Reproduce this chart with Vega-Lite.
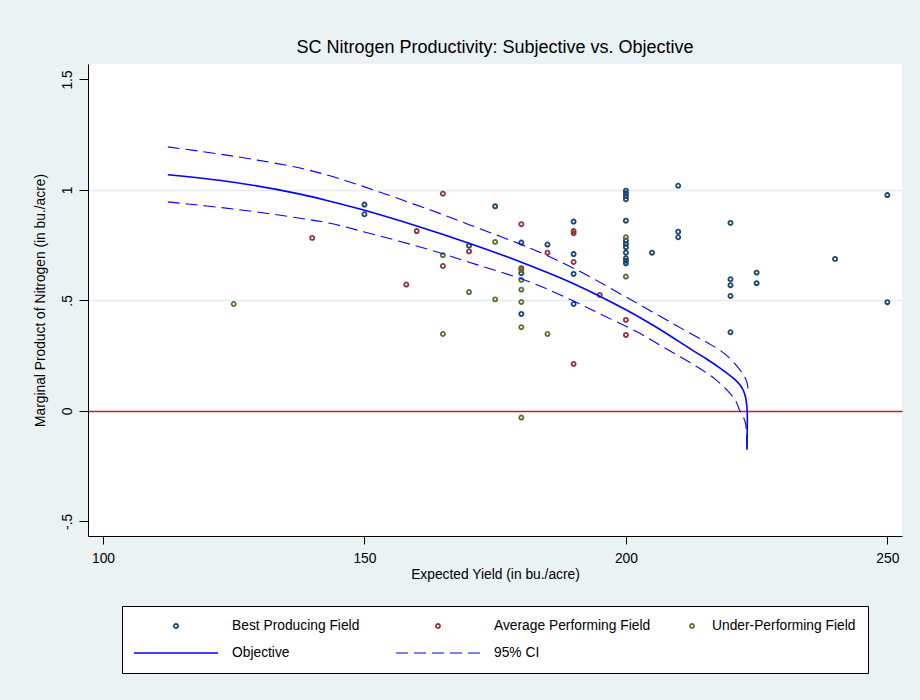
{
  "$schema": "https://vega.github.io/schema/vega-lite/v6.json",
  "width": 814,
  "height": 472,
  "autosize": "none",
  "padding": {"left": 88, "top": 64, "right": 18, "bottom": 164},
  "background": "#eaf2f3",
  "title": {"text": "SC Nitrogen Productivity: Subjective vs. Objective", "anchor": "middle", "frame": "group", "fontSize": 18, "font": "Liberation Sans", "fontWeight": "normal", "color": "#000000", "offset": 7},
  "config": {
    "view": {"fill": "#ffffff", "stroke": null},
    "font": "Liberation Sans",
    "axis": {"domainColor": "#000000", "tickColor": "#000000", "labelColor": "#000000", "titleColor": "#000000", "labelFont": "Liberation Sans", "titleFont": "Liberation Sans", "labelFontSize": 13.8, "titleFontSize": 13.8, "titleFontWeight": "normal", "domainWidth": 1, "tickWidth": 1, "labelFlush": false}
  },
  "datasets": {
    "points": [
      {"x": 150, "y": 0.934, "series": "Best Producing Field"},
      {"x": 150, "y": 0.890, "series": "Best Producing Field"},
      {"x": 175, "y": 0.926, "series": "Best Producing Field"},
      {"x": 170, "y": 0.748, "series": "Best Producing Field"},
      {"x": 180, "y": 0.762, "series": "Best Producing Field"},
      {"x": 180, "y": 0.623, "series": "Best Producing Field"},
      {"x": 180, "y": 0.439, "series": "Best Producing Field"},
      {"x": 185, "y": 0.753, "series": "Best Producing Field"},
      {"x": 190, "y": 0.857, "series": "Best Producing Field"},
      {"x": 190, "y": 0.710, "series": "Best Producing Field"},
      {"x": 190, "y": 0.620, "series": "Best Producing Field"},
      {"x": 190, "y": 0.484, "series": "Best Producing Field"},
      {"x": 200, "y": 0.997, "series": "Best Producing Field"},
      {"x": 200, "y": 0.985, "series": "Best Producing Field"},
      {"x": 200, "y": 0.972, "series": "Best Producing Field"},
      {"x": 200, "y": 0.958, "series": "Best Producing Field"},
      {"x": 200, "y": 0.861, "series": "Best Producing Field"},
      {"x": 200, "y": 0.771, "series": "Best Producing Field"},
      {"x": 200, "y": 0.756, "series": "Best Producing Field"},
      {"x": 200, "y": 0.741, "series": "Best Producing Field"},
      {"x": 200, "y": 0.716, "series": "Best Producing Field"},
      {"x": 200, "y": 0.691, "series": "Best Producing Field"},
      {"x": 200, "y": 0.680, "series": "Best Producing Field"},
      {"x": 200, "y": 0.668, "series": "Best Producing Field"},
      {"x": 205, "y": 0.716, "series": "Best Producing Field"},
      {"x": 210, "y": 1.019, "series": "Best Producing Field"},
      {"x": 210, "y": 0.811, "series": "Best Producing Field"},
      {"x": 210, "y": 0.786, "series": "Best Producing Field"},
      {"x": 220, "y": 0.851, "series": "Best Producing Field"},
      {"x": 220, "y": 0.596, "series": "Best Producing Field"},
      {"x": 220, "y": 0.569, "series": "Best Producing Field"},
      {"x": 220, "y": 0.520, "series": "Best Producing Field"},
      {"x": 220, "y": 0.356, "series": "Best Producing Field"},
      {"x": 225, "y": 0.626, "series": "Best Producing Field"},
      {"x": 225, "y": 0.578, "series": "Best Producing Field"},
      {"x": 240, "y": 0.688, "series": "Best Producing Field"},
      {"x": 250, "y": 0.977, "series": "Best Producing Field"},
      {"x": 250, "y": 0.492, "series": "Best Producing Field"},
      {"x": 140, "y": 0.783, "series": "Average Performing Field"},
      {"x": 158, "y": 0.572, "series": "Average Performing Field"},
      {"x": 160, "y": 0.814, "series": "Average Performing Field"},
      {"x": 165, "y": 0.983, "series": "Average Performing Field"},
      {"x": 165, "y": 0.656, "series": "Average Performing Field"},
      {"x": 170, "y": 0.722, "series": "Average Performing Field"},
      {"x": 180, "y": 0.845, "series": "Average Performing Field"},
      {"x": 180, "y": 0.646, "series": "Average Performing Field"},
      {"x": 185, "y": 0.716, "series": "Average Performing Field"},
      {"x": 190, "y": 0.814, "series": "Average Performing Field"},
      {"x": 190, "y": 0.804, "series": "Average Performing Field"},
      {"x": 190, "y": 0.674, "series": "Average Performing Field"},
      {"x": 190, "y": 0.213, "series": "Average Performing Field"},
      {"x": 195, "y": 0.525, "series": "Average Performing Field"},
      {"x": 200, "y": 0.412, "series": "Average Performing Field"},
      {"x": 200, "y": 0.344, "series": "Average Performing Field"},
      {"x": 125, "y": 0.484, "series": "Under-Performing Field"},
      {"x": 165, "y": 0.705, "series": "Under-Performing Field"},
      {"x": 165, "y": 0.348, "series": "Under-Performing Field"},
      {"x": 170, "y": 0.538, "series": "Under-Performing Field"},
      {"x": 175, "y": 0.765, "series": "Under-Performing Field"},
      {"x": 175, "y": 0.505, "series": "Under-Performing Field"},
      {"x": 180, "y": 0.638, "series": "Under-Performing Field"},
      {"x": 180, "y": 0.593, "series": "Under-Performing Field"},
      {"x": 180, "y": 0.549, "series": "Under-Performing Field"},
      {"x": 180, "y": 0.493, "series": "Under-Performing Field"},
      {"x": 180, "y": 0.379, "series": "Under-Performing Field"},
      {"x": 180, "y": -0.030, "series": "Under-Performing Field"},
      {"x": 185, "y": 0.348, "series": "Under-Performing Field"},
      {"x": 200, "y": 0.786, "series": "Under-Performing Field"},
      {"x": 200, "y": 0.608, "series": "Under-Performing Field"}
    ],
    "objective": [
      {"i": 1, "x": 112.4, "y": 1.069, "series": "Objective"},
      {"i": 2, "x": 125.0, "y": 1.035, "series": "Objective"},
      {"i": 3, "x": 137.7, "y": 0.981, "series": "Objective"},
      {"i": 4, "x": 143.4, "y": 0.949, "series": "Objective"},
      {"i": 5, "x": 150.0, "y": 0.908, "series": "Objective"},
      {"i": 6, "x": 160.0, "y": 0.837, "series": "Objective"},
      {"i": 7, "x": 170.0, "y": 0.759, "series": "Objective"},
      {"i": 8, "x": 180.0, "y": 0.673, "series": "Objective"},
      {"i": 9, "x": 190.0, "y": 0.576, "series": "Objective"},
      {"i": 10, "x": 200.0, "y": 0.458, "series": "Objective"},
      {"i": 11, "x": 206.3, "y": 0.372, "series": "Objective"},
      {"i": 12, "x": 212.9, "y": 0.272, "series": "Objective"},
      {"i": 13, "x": 215.5, "y": 0.234, "series": "Objective"},
      {"i": 14, "x": 218.0, "y": 0.194, "series": "Objective"},
      {"i": 15, "x": 220.6, "y": 0.147, "series": "Objective"},
      {"i": 16, "x": 221.8, "y": 0.118, "series": "Objective"},
      {"i": 17, "x": 222.5, "y": 0.090, "series": "Objective"},
      {"i": 18, "x": 222.9, "y": 0.059, "series": "Objective"},
      {"i": 19, "x": 223.1, "y": 0.027, "series": "Objective"},
      {"i": 20, "x": 223.2, "y": 0.0, "series": "Objective"},
      {"i": 21, "x": 223.2, "y": -0.086, "series": "Objective"},
      {"i": 22, "x": 223.15, "y": -0.176, "series": "Objective"}
    ],
    "ci": [
      {"i": 1, "x": 112.4, "y": 1.195, "bound": "upper", "series": "95% CI"},
      {"i": 2, "x": 124.9, "y": 1.153, "bound": "upper", "series": "95% CI"},
      {"i": 3, "x": 137.7, "y": 1.099, "bound": "upper", "series": "95% CI"},
      {"i": 4, "x": 143.4, "y": 1.064, "bound": "upper", "series": "95% CI"},
      {"i": 5, "x": 150.0, "y": 1.014, "bound": "upper", "series": "95% CI"},
      {"i": 6, "x": 162.5, "y": 0.910, "bound": "upper", "series": "95% CI"},
      {"i": 7, "x": 170.0, "y": 0.843, "bound": "upper", "series": "95% CI"},
      {"i": 8, "x": 181.7, "y": 0.736, "bound": "upper", "series": "95% CI"},
      {"i": 9, "x": 190.0, "y": 0.646, "bound": "upper", "series": "95% CI"},
      {"i": 10, "x": 200.8, "y": 0.505, "bound": "upper", "series": "95% CI"},
      {"i": 11, "x": 212.0, "y": 0.355, "bound": "upper", "series": "95% CI"},
      {"i": 12, "x": 216.0, "y": 0.303, "bound": "upper", "series": "95% CI"},
      {"i": 13, "x": 218.0, "y": 0.274, "bound": "upper", "series": "95% CI"},
      {"i": 14, "x": 219.3, "y": 0.250, "bound": "upper", "series": "95% CI"},
      {"i": 15, "x": 221.0, "y": 0.210, "bound": "upper", "series": "95% CI"},
      {"i": 16, "x": 222.3, "y": 0.170, "bound": "upper", "series": "95% CI"},
      {"i": 17, "x": 222.8, "y": 0.150, "bound": "upper", "series": "95% CI"},
      {"i": 18, "x": 223.2, "y": 0.125, "bound": "upper", "series": "95% CI"},
      {"i": 19, "x": 223.35, "y": 0.100, "bound": "upper", "series": "95% CI"},
      {"i": 1, "x": 112.4, "y": 0.946, "bound": "lower", "series": "95% CI"},
      {"i": 2, "x": 124.9, "y": 0.914, "bound": "lower", "series": "95% CI"},
      {"i": 3, "x": 137.7, "y": 0.872, "bound": "lower", "series": "95% CI"},
      {"i": 4, "x": 143.4, "y": 0.849, "bound": "lower", "series": "95% CI"},
      {"i": 5, "x": 150.0, "y": 0.810, "bound": "lower", "series": "95% CI"},
      {"i": 6, "x": 162.5, "y": 0.729, "bound": "lower", "series": "95% CI"},
      {"i": 7, "x": 170.0, "y": 0.673, "bound": "lower", "series": "95% CI"},
      {"i": 8, "x": 181.7, "y": 0.583, "bound": "lower", "series": "95% CI"},
      {"i": 9, "x": 190.0, "y": 0.497, "bound": "lower", "series": "95% CI"},
      {"i": 10, "x": 195.7, "y": 0.432, "bound": "lower", "series": "95% CI"},
      {"i": 11, "x": 202.1, "y": 0.358, "bound": "lower", "series": "95% CI"},
      {"i": 12, "x": 207.8, "y": 0.280, "bound": "lower", "series": "95% CI"},
      {"i": 13, "x": 213.6, "y": 0.200, "bound": "lower", "series": "95% CI"},
      {"i": 14, "x": 217.0, "y": 0.145, "bound": "lower", "series": "95% CI"},
      {"i": 15, "x": 219.3, "y": 0.095, "bound": "lower", "series": "95% CI"},
      {"i": 16, "x": 221.0, "y": 0.045, "bound": "lower", "series": "95% CI"},
      {"i": 17, "x": 221.8, "y": 0.000, "bound": "lower", "series": "95% CI"},
      {"i": 18, "x": 222.5, "y": -0.030, "bound": "lower", "series": "95% CI"},
      {"i": 19, "x": 222.9, "y": -0.060, "bound": "lower", "series": "95% CI"},
      {"i": 20, "x": 223.1, "y": -0.120, "bound": "lower", "series": "95% CI"},
      {"i": 21, "x": 223.2, "y": -0.180, "bound": "lower", "series": "95% CI"}
    ]
  },
  "encoding": {
    "x": {
      "field": "x", "type": "quantitative",
      "scale": {"domain": [97.13, 252.8], "nice": false, "zero": false},
      "axis": {"title": "Expected Yield (in bu./acre)", "values": [100, 150, 200, 250], "format": "d", "tickSize": 8, "labelPadding": 7, "titlePadding": 3, "grid": false}
    },
    "y": {
      "field": "y", "type": "quantitative",
      "scale": {"domain": [-0.566, 1.57], "nice": false, "zero": false},
      "axis": {
        "title": "Marginal Product of Nitrogen (in bu./acre)",
        "values": [-0.5, 0, 0.5, 1, 1.5],
        "labelExpr": "datum.value == 0.5 ? '.5' : datum.value == -0.5 ? '-.5' : datum.value == 1.5 ? '1.5' : datum.value == 1 ? '1' : '0'",
        "labelAngle": -90, "labelAlign": "center", "labelBaseline": "bottom",
        "tickSize": 9, "labelPadding": 5, "titlePadding": 13,
        "grid": true, "gridWidth": 1.3,
        "gridColor": {"condition": {"test": "datum.value == 0", "value": "#c01a3d"}, "value": "#e3edf0"},
        "gridOpacity": {"condition": {"test": "datum.value == 1.5 || datum.value == -0.5", "value": 0}, "value": 1}
      }
    },
    "color": {
      "field": "series", "type": "nominal",
      "scale": {
        "domain": ["Best Producing Field", "Average Performing Field", "Under-Performing Field", "Objective", "95% CI"],
        "range": ["#1a476f", "#90353b", "#55752f", "#0000ff", "#0000ff"]
      },
      "legend": {
        "title": null,
        "orient": "none",
        "legendX": 34,
        "legendY": 542,
        "direction": "horizontal",
        "columns": 3,
        "gridAlign": "each",
        "symbolSize": 7056,
        "clipHeight": 16,
        "labelFont": "Liberation Sans",
        "labelFontSize": 13.8,
        "labelColor": "#000000",
        "labelLimit": 400,
        "labelOffset": 14,
        "columnPadding": 36,
        "rowPadding": 11,
        "padding": 12,
        "strokeColor": "#000000",
        "fillColor": "#ffffff",
        "encode": {
          "symbols": {"update": {
            "shape": {"signal": "datum.value === 'Objective' || datum.value === '95% CI' ? 'M-1,0L1,0' : datum.value === 'Under-Performing Field' ? 'M0.048,0A0.048,0.048,0,1,1,-0.048,0A0.048,0.048,0,1,1,0.048,0Z' : 'M-1,0L-1,0M1,0L1,0M0.048,0A0.048,0.048,0,1,1,-0.048,0A0.048,0.048,0,1,1,0.048,0Z'"},
            "size": {"value": 7056},
            "strokeDash": {"signal": "datum.value === '95% CI' ? [12, 6] : [1, 0]"},
            "strokeWidth": {"signal": "datum.value === 'Objective' ? 1.6 : datum.value === '95% CI' ? 1.1 : 1.8"},
            "fill": {"value": "transparent"},
            "stroke": {"signal": "scale('color', datum.value)"},
            "x": {"signal": "datum.value === 'Under-Performing Field' ? 5 : 42"}
          }},
          "labels": {"update": {
            "x": {"signal": "datum.value === 'Under-Performing Field' ? 25 : 98"}
          }}
        }
      }
    }
  },
  "layer": [
    {
      "data": {"name": "points"},
      "mark": {"type": "point", "shape": "circle", "filled": false, "size": 17, "strokeWidth": 1.8, "opacity": 1}
    },
    {
      "data": {"name": "objective"},
      "mark": {"type": "line", "strokeWidth": 1.6, "interpolate": "catmull-rom"},
      "encoding": {"order": {"field": "i", "type": "quantitative"}}
    },
    {
      "data": {"name": "ci"},
      "mark": {"type": "line", "strokeWidth": 1.1, "strokeDash": [12, 6], "interpolate": "catmull-rom"},
      "encoding": {"order": {"field": "i", "type": "quantitative"}, "detail": {"field": "bound", "type": "nominal"}}
    }
  ]
}
